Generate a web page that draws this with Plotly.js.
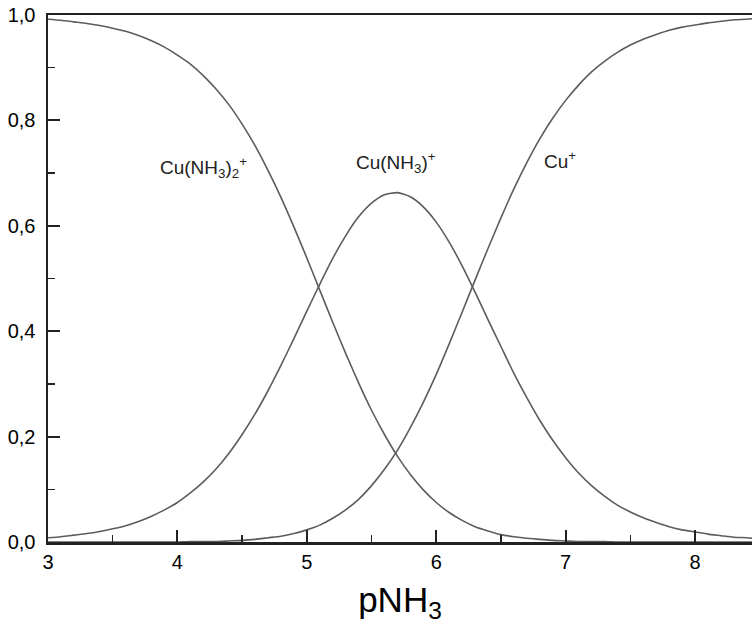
<!DOCTYPE html>
<html>
<head>
<meta charset="utf-8">
<script src="https://cdn.plot.ly/plotly-3.0.1.min.js"></script>
<style>html,body{margin:0;padding:0;background:#fff;}#chart{width:752px;height:634px;}</style>
</head>
<body>
<div id="chart"></div>
<script>
const pNH3 = [3.0,3.1,3.2,3.3,3.4,3.5,3.6,3.7,3.8,3.9,
  4.0,4.1,4.2,4.3,4.4,4.5,4.6,4.7,4.8,4.9,
  5.0,5.1,5.2,5.3,5.4,5.5,5.6,5.7,5.8,5.9,
  6.0,6.1,6.2,6.3,6.4,6.5,6.6,6.7,6.8,6.9,
  7.0,7.1,7.2,7.3,7.4,7.5,7.6,7.7,7.8,7.9,
  8.0,8.1,8.2,8.3,8.4,8.5];
const cuNH3_2 = [0.992,0.990,0.987,0.984,0.980,0.975,0.969,0.961,0.951,0.939,
  0.924,0.907,0.885,0.859,0.829,0.793,0.752,0.705,0.654,0.598,
  0.539,0.478,0.417,0.358,0.302,0.250,0.204,0.163,0.128,0.099,
  0.075,0.056,0.041,0.029,0.021,0.014,0.010,0.007,0.005,0.003,
  0.002,0.001,0.001,0.001,0.000,0.000,0.000,0.000,0.000,0.000,
  0.000,0.000,0.000,0.000,0.000,0.000];
const cuNH3 = [0.008,0.010,0.013,0.016,0.020,0.025,0.031,0.039,0.049,0.061,
  0.075,0.093,0.114,0.139,0.169,0.204,0.243,0.287,0.335,0.386,
  0.438,0.489,0.538,0.581,0.617,0.643,0.659,0.663,0.655,0.636,
  0.607,0.569,0.524,0.474,0.422,0.371,0.320,0.274,0.231,0.193,
  0.160,0.131,0.107,0.087,0.070,0.057,0.046,0.037,0.029,0.023,
  0.019,0.015,0.012,0.009,0.008,0.006];
const cu = [0.000,0.000,0.000,0.000,0.000,0.000,0.000,0.000,0.000,0.000,
  0.000,0.001,0.001,0.001,0.002,0.003,0.005,0.008,0.011,0.016,
  0.023,0.032,0.045,0.061,0.081,0.107,0.138,0.174,0.217,0.265,
  0.318,0.376,0.436,0.497,0.557,0.615,0.670,0.720,0.765,0.804,
  0.838,0.867,0.892,0.912,0.929,0.943,0.954,0.963,0.971,0.977,
  0.981,0.985,0.988,0.991,0.992,0.994];
const seriesNames = ['Cu(NH<sub>3</sub>)<sub>2</sub><sup>+</sup>','Cu(NH<sub>3</sub>)<sup>+</sup>','Cu<sup>+</sup>'];
const labelPos = [[4.2,0.71],[5.69,0.72],[6.96,0.725]];

const lineStyle = {color:'#5c5c5c', width:1.6, shape:'spline', smoothing:0.6};
const traces = [cuNH3_2, cuNH3, cu].map((ys,i)=>({
  x: pNH3, y: ys, type:'scatter', mode:'lines', name: seriesNames[i],
  line: lineStyle, hoverinfo:'skip'
}));

const tickFont = {family:'Liberation Sans, Arial, sans-serif', size:20, color:'#000'};
const layout = {
  width:752, height:634,
  margin:{l:48, r:0, t:15, b:92, pad:0},
  paper_bgcolor:'#fff', plot_bgcolor:'#fff',
  showlegend:false,
  separators:', ',
  xaxis:{
    range:[3,8.44], showgrid:false, zeroline:false,
    showline:true, linecolor:'#222', linewidth:2.5, mirror:true,
    ticks:'inside', ticklen:12, tickwidth:2, tickcolor:'#222',
    tick0:3, dtick:1, tickfont:tickFont, ticklabelstandoff:0,
    minor:{ticks:'inside', ticklen:7, tickwidth:1.5, tickcolor:'#222', dtick:0.5, showgrid:false},
    title:{text:'pNH<sub>3</sub>', font:{family:'Liberation Sans, Arial, sans-serif', size:35, color:'#000'}, standoff:16}
  },
  yaxis:{
    range:[0,1], showgrid:false, zeroline:false,
    showline:true, linecolor:'#222', linewidth:2.5, mirror:false,
    ticks:'inside', ticklen:12, tickwidth:2, tickcolor:'#222',
    tick0:0, dtick:0.2, tickformat:'.1f', tickfont:tickFont, ticklabelstandoff:6,
    minor:{ticks:'inside', ticklen:7, tickwidth:1.5, tickcolor:'#222', dtick:0.1, showgrid:false}
  },
  annotations: seriesNames.map((t,i)=>({
    x: labelPos[i][0], y: labelPos[i][1], xref:'x', yref:'y', text:t, showarrow:false,
    font:{family:'Liberation Sans, Arial, sans-serif', size:19, color:'#222'}
  }))
};
Plotly.newPlot('chart', traces, layout, {staticPlot:true, displayModeBar:false});
</script>
</body>
</html>
